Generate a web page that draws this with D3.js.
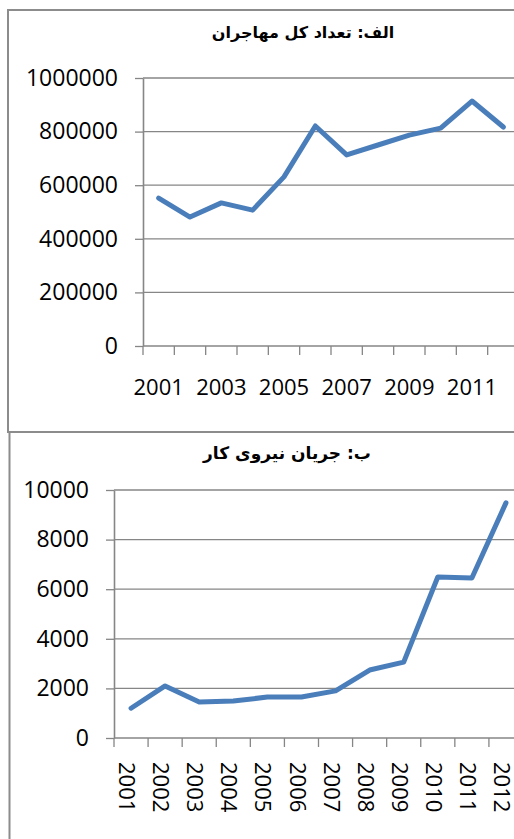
<!DOCTYPE html>
<meta charset="utf-8">
<style>
body{ margin:0; background:#fff; }
svg text{ font-family: "Open Sans", "DejaVu Sans", sans-serif; fill:#000; }
.title{ font-family: "DejaVu Sans", sans-serif; }
</style>
<body>
<script src="https://d3js.org/d3.v7.min.js"></script>
<script>
// data
const years = ["2001","2002","2003","2004","2005","2006","2007","2008","2009","2010","2011","2012"];
const migrants = [552000, 481000, 534000, 507000, 631000, 821000, 713000, 750000, 787000, 813000, 914000, 817000];
const labour = [1200, 2100, 1450, 1490, 1650, 1650, 1900, 2740, 3060, 6490, 6450, 9480];
const migrantTicks = [0, 200000, 400000, 600000, 800000, 1000000];
const labourTicks = [0, 2000, 4000, 6000, 8000, 10000];
const topYearLabels = ["2001","2003","2005","2007","2009","2011"];

const width = 514, height = 839;
const gray = "#868686", blue = "#4a7ebb";

const svg = d3.select("body").append("svg")
    .attr("width", width).attr("height", height);

// chart frames
svg.append("rect").attr("x", 8).attr("y", 10).attr("width", 560).attr("height", 422)
    .attr("fill", "none").attr("stroke", "#8c8c8c").attr("stroke-width", 2);
svg.append("rect").attr("x", 9.5).attr("y", 432).attr("width", 560).attr("height", 460)
    .attr("fill", "none").attr("stroke", "#8c8c8c").attr("stroke-width", 2);

function drawChart(o) {
    const g = svg.append("g");
    const x = d3.scaleBand().domain(years).range([o.left, o.right]);
    const y = d3.scaleLinear().domain([0, o.max]).range([o.bottom, o.top]);

    g.append("text").attr("class", "title")
        .attr("x", o.titleX).attr("y", o.titleY)
        .attr("text-anchor", "middle")
        .attr("direction", "rtl")
        .style("font-size", o.titleSize + "px")
        .style("font-weight", o.titleWeight)
        .text(o.title);

    // gridlines
    g.selectAll(".grid").data(o.ticks.filter(d => d > 0)).join("line")
        .attr("x1", o.left).attr("x2", width)
        .attr("y1", d => y(d)).attr("y2", d => y(d))
        .attr("stroke", gray).attr("stroke-width", 1.3);

    // y axis
    const ya = g.append("g").attr("transform", `translate(${o.left},0)`)
        .call(d3.axisLeft(y).tickValues(o.ticks).tickSize(8).tickSizeOuter(0)
            .tickPadding(o.pad).tickFormat(d3.format("d")));
    ya.select(".domain").attr("stroke", gray).attr("stroke-width", 1.6);
    ya.selectAll(".tick line").attr("stroke", gray).attr("stroke-width", 1.3);
    ya.selectAll(".tick text").style("font-size", o.ySize + "px")
        .style("font-family", "'Open Sans', sans-serif");

    // x axis baseline and ticks between categories
    g.append("line").attr("x1", o.left).attr("x2", width)
        .attr("y1", o.bottom).attr("y2", o.bottom)
        .attr("stroke", gray).attr("stroke-width", 1.3);
    const bounds = d3.range(years.length + 1).map(i => o.left + i * x.step());
    g.selectAll(".xt").data(bounds).join("line")
        .attr("x1", d => d).attr("x2", d => d)
        .attr("y1", o.bottom).attr("y2", o.bottom + 9)
        .attr("stroke", gray).attr("stroke-width", 1.3);

    // line
    const line = d3.line()
        .x((d, i) => x(years[i]) + x.bandwidth() / 2)
        .y(d => y(d));
    g.append("path").datum(o.values)
        .attr("d", line)
        .attr("fill", "none").attr("stroke", blue)
        .attr("stroke-width", 5).attr("stroke-linejoin", "round").attr("stroke-linecap", "round");

    return {g, x, y};
}

// chart A
const a = drawChart({
    title: "الف: تعداد کل مهاجران", titleX: 303, titleY: 38, titleSize: 16, titleWeight: "bold",
    left: 143, right: 519, top: 78, bottom: 346, max: 1000000,
    ticks: migrantTicks, values: migrants, pad: 17, ySize: 23
});
a.g.selectAll(".xl").data(topYearLabels).join("text")
    .attr("x", d => a.x(d) + a.x.bandwidth() / 2)
    .attr("y", 395)
    .attr("text-anchor", "middle")
    .style("font-size", "22px")
    .text(d => d);

// chart B
const b = drawChart({
    title: "ب: جریان نیروی کار", titleX: 287, titleY: 459, titleSize: 17, titleWeight: "bold",
    left: 114, right: 523, top: 490, bottom: 738, max: 10000,
    ticks: labourTicks, values: labour, pad: 17, ySize: 23
});
b.g.selectAll(".xl").data(years).join("text")
    .attr("transform", d => `translate(${b.x(d) + b.x.bandwidth() / 2},762) rotate(90)`)
    .attr("dy", "0.54em")
    .attr("text-anchor", "start")
    .style("font-size", "22px")
    .text(d => d);
</script>
</body>
</html>
